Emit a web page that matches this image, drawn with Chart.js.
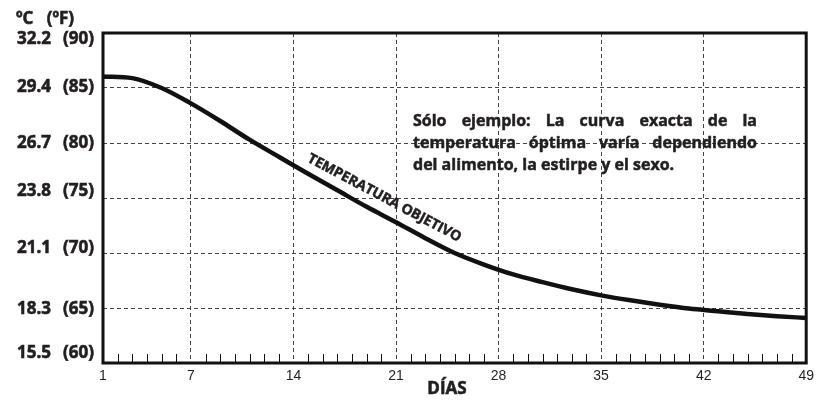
<!DOCTYPE html>
<html>
<head>
<meta charset="utf-8">
<script src="https://cdn.jsdelivr.net/npm/chart.js@4/dist/chart.umd.min.js"></script>
<style>
html,body{margin:0;padding:0;background:#fff}
#wrap{width:819px;height:400px}
</style>
</head>
<body>
<div id="wrap"><canvas id="chart"></canvas></div>
<script>
// datos (eje y en grados F)
var dias=[1,3,5,7,9,11,13,15,17,19,21,23,25,27,29,31,33,35,37,39,41,43,45,47,49];
var tempF=[86.05,85.9,85.0,83.6,82.0,80.3,78.75,77.2,75.7,74.2,72.8,71.35,70.0,68.95,68.05,67.35,66.7,66.15,65.7,65.3,64.95,64.7,64.45,64.25,64.1];
var ejeDias=[1,7,14,21,28,35,42,49];
var ejeF=[60,65,70,75,80,85,90];
var ejeC=['15.5','18.3','21.1','23.8','26.7','29.4','32.2'];
var nota=['Sólo ejemplo: La curva exacta de la','temperatura óptima varía dependiendo','del alimento, la estirpe y el sexo.'];
var etiquetaCurva='TEMPERATURA OBJETIVO';
var tituloY='ºC   (ºF)';
var tituloX='DÍAS';

var puntos=dias.map(function(d,i){return {x:d,y:tempF[i]}});

var fuenteNegrita='"Open Sans"';

// texto en negrita un poco mas gruesa (el original es muy negro)
function texto(ctx,t,x,y){
  ctx.fillText(t,x,y);
  ctx.strokeText(t,x,y);
}

function lineaJustificada(ctx,txt,x,y,ancho){
  var pal=txt.split(' ');
  var total=0;
  pal.forEach(function(p){total+=ctx.measureText(p).width});
  var hueco=(ancho-total)/(pal.length-1);
  var px=x;
  pal.forEach(function(p){texto(ctx,p,px,y);px+=ctx.measureText(p).width+hueco});
}

var extras={
  id:'extras',
  afterDraw:function(chart){
    var ctx=chart.ctx, a=chart.chartArea, sx=chart.scales.x, sy=chart.scales.y;
    ctx.save();
    ctx.strokeStyle='#111';
    // rayitas de cada dia
    ctx.lineWidth=1;
    for(var d=2;d<49;d++){
      if(d%7==0) continue;
      var px=Math.round(sx.getPixelForValue(d))+0.5;
      ctx.beginPath();ctx.moveTo(px,a.bottom);ctx.lineTo(px,a.bottom-9);ctx.stroke();
    }
    // marco
    ctx.lineWidth=3;
    ctx.strokeRect(a.left,a.top,a.right-a.left,a.bottom-a.top);

    ctx.fillStyle='#231f20';
    ctx.strokeStyle='#231f20';
    ctx.lineWidth=0.6;
    // etiquetas del eje y: ºC y (ºF)
    // los de los extremos van algo corridos hacia dentro, como en el original
    var corr={90:6,85:-1,80:0,75:-6.5,70:-5,65:1,60:-10};
    ctx.font='bold 17px '+fuenteNegrita;
    ctx.textBaseline='middle';
    ejeF.forEach(function(v,i){
      var y=sy.getPixelForValue(v)+corr[v];
      ctx.textAlign='right';
      texto(ctx,'('+v+')',94,y);
      texto(ctx,ejeC[i],51,y);
    });

    // titulo eje y
    ctx.textBaseline='alphabetic';
    ctx.textAlign='left';
    texto(ctx,tituloY,16,24);

    // titulo eje x
    ctx.textAlign='center';
    texto(ctx,tituloX,447,394);

    // nota
    ctx.textAlign='left';
    ctx.font='bold 16px '+fuenteNegrita;
    ctx.lineWidth=0.5;
    lineaJustificada(ctx,nota[0],413,126,344);
    lineaJustificada(ctx,nota[1],413,148,344);
    texto(ctx,nota[2],413,170);

    // etiqueta de la curva
    var cx=sx.getPixelForValue(20.2), cy=sy.getPixelForValue(75.0);
    ctx.translate(cx,cy);
    ctx.rotate(28*Math.PI/180);
    ctx.font='bold 14px '+fuenteNegrita;
    ctx.textAlign='center';
    ctx.textBaseline='middle';
    texto(ctx,etiquetaCurva,0,0);
    ctx.restore();
  }
};

new Chart(document.getElementById('chart'),{
  type:'line',
  data:{
    datasets:[{
      data:puntos,
      borderColor:'#111',
      borderWidth:4.5,
      pointRadius:0,
      fill:false,
      cubicInterpolationMode:'monotone'
    }]
  },
  options:{
    responsive:true,
    maintainAspectRatio:false,
    animation:false,
    layout:{padding:{top:33,right:12,left:0,bottom:0}},
    plugins:{legend:{display:false},tooltip:{enabled:false}},
    scales:{
      x:{
        type:'linear',
        min:1,max:49,
        afterBuildTicks:function(s){s.ticks=ejeDias.map(function(v){return {value:v}})},
        afterFit:function(s){s.height=37},
        ticks:{color:'#231f20',font:{family:'"Liberation Sans"',size:14},padding:5,maxRotation:0},
        grid:{
          drawTicks:false,
          color:function(c){var v=c.tick&&c.tick.value;return (v==1||v==49)?'rgba(0,0,0,0)':'#444'},
          lineWidth:1
        },
        border:{display:false,dash:[4,3]}
      },
      y:{
        min:60,max:90,
        afterBuildTicks:function(s){s.ticks=ejeF.map(function(v){return {value:v}})},
        afterFit:function(s){s.width=103},
        ticks:{display:false},
        grid:{
          drawTicks:false,
          color:function(c){var v=c.tick&&c.tick.value;return (v==60||v==90)?'rgba(0,0,0,0)':'#444'},
          lineWidth:1
        },
        border:{display:false,dash:[4,3]}
      }
    }
  },
  plugins:[extras]
});
</script>
</body>
</html>
